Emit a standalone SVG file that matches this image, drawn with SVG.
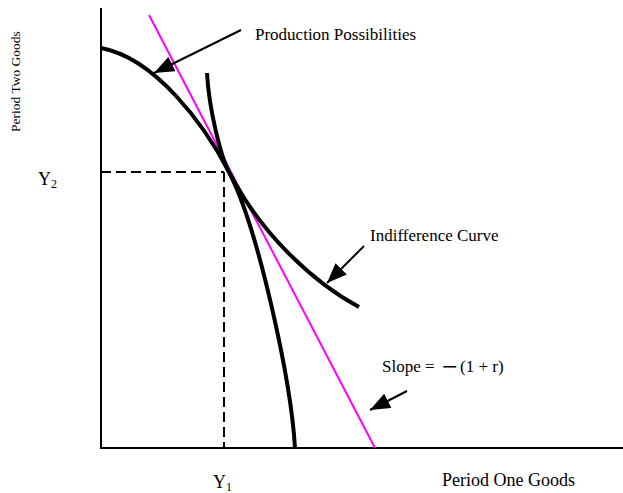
<svg xmlns="http://www.w3.org/2000/svg" width="623" height="493" viewBox="0 0 623 493">
<defs>
<style>
text{font-family:"Liberation Serif","Times New Roman",serif;fill:#000}
.lbl{font-size:17px}
.ax{font-size:18px}
.axis{stroke:#000;stroke-width:2;fill:none}
.curve{stroke:#000;stroke-width:4;fill:none}
.dash{stroke:#000;stroke-width:2;fill:none;stroke-dasharray:10 5}
.budget{stroke:#ff00ff;stroke-width:2;fill:none}
.ptr{stroke:#000;stroke-width:2;fill:none;marker-end:url(#ah)}
</style>
<marker id="ah" viewBox="0 0 20 16" refX="20" refY="8" markerWidth="20" markerHeight="16" markerUnits="userSpaceOnUse" orient="auto">
<path d="M0,0 L20,8 L0,16 Z" fill="#000"/>
</marker>
</defs>
<rect width="623" height="493" fill="#fff"/>
<g id="axes">
<line class="axis" x1="101" y1="8" x2="101" y2="448"/>
<line class="axis" x1="100" y1="448" x2="623" y2="448"/>
</g>
<g id="guides">
<line class="dash" x1="101" y1="172" x2="224" y2="172"/>
<line class="dash" x1="224" y1="172" x2="224" y2="448"/>
</g>
<g id="budget-line">
<line class="budget" x1="149" y1="15" x2="375" y2="448"/>
</g>
<g id="production-possibilities">
<path class="curve" d="M101,48 C155,58 204,124 229,172 C258,228 291,380 295,448"/>
</g>
<g id="indifference-curve">
<path class="curve" d="M207,73 C209,110 221,157 229,172 C259,230 309,280 359,307"/>
</g>
<g id="connectors">
<line class="ptr" x1="241" y1="30" x2="154" y2="73"/>
<line class="ptr" x1="364" y1="246" x2="327" y2="283"/>
<line class="ptr" x1="407" y1="391" x2="370" y2="410"/>
</g>
<g id="labels">
<text class="lbl" x="255" y="40">Production Possibilities</text>
<text class="lbl" x="370" y="241">Indifference Curve</text>
<text class="lbl" y="372"><tspan x="382">Slope =</tspan><tspan x="442" dy="4" font-size="28">−</tspan><tspan x="460" dy="-4">(1 + r)</tspan></text>
<text class="ax" x="442" y="486">Period One Goods</text>
<text style="font-size:13.5px" transform="translate(20,132) rotate(-90)">Period Two Goods</text>
<text class="ax" x="38" y="185">Y<tspan font-size="12" dy="3">2</tspan></text>
<text class="ax" x="213" y="488">Y<tspan font-size="12" dy="3">1</tspan></text>
</g>
</svg>
